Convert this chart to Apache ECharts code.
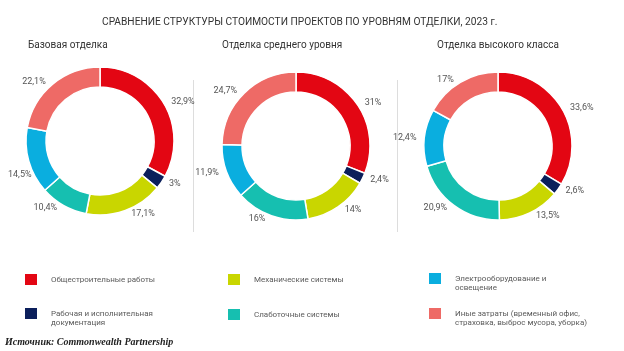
<!DOCTYPE html>
<html>
<head>
<meta charset="utf-8">
<script src="https://cdn.jsdelivr.net/npm/echarts@6/dist/echarts.min.js"></script>
<style>
html,body{margin:0;padding:0;background:#fff}
#main{width:624px;height:351px}
</style>
</head>
<body>
<div id="main"></div>
<script>
// данные
const categories = [
    'Общестроительные работы',
    'Рабочая и исполнительная документация',
    'Механические системы',
    'Слаботочные системы',
    'Электрооборудование и освещение',
    'Иные затраты (временный офис, страховка, выброс мусора, уборка)'
];
const levels = ['Базовая отделка', 'Отделка среднего уровня', 'Отделка высокого класса'];
const basicValues = [32.9, 3, 17.1, 10.4, 14.5, 22.1];
const midValues = [31, 2.4, 14, 16, 11.9, 24.7];
const highValues = [33.6, 2.6, 13.5, 20.9, 12.4, 17];

const colors = ['#e30613', '#0b1f5b', '#c9d600', '#16bfb0', '#0aaedf', '#ee6a66'];
// пустая первая строка, чтобы первая строка текста шла вровень с центром квадрата
const wrapped = {
    'Рабочая и исполнительная документация': '\nРабочая и исполнительная\nдокументация',
    'Электрооборудование и освещение': '\nЭлектрооборудование и\nосвещение',
    'Иные затраты (временный офис, страховка, выброс мусора, уборка)': '\nИные затраты (временный офис,\nстраховка, выброс мусора, уборка)'
};
const font = 'Roboto, sans-serif';

let myChart = echarts.init(document.getElementById('main'));

let makePie = function (values, center) {
    return {
        type: 'pie',
        silent: true,
        center: center,
        radius: [54, 74],
        startAngle: 90,
        avoidLabelOverlap: false,
        itemStyle: { borderColor: '#fff', borderWidth: 1.5 },
        label: {
            position: 'outside',
            fontFamily: font,
            fontSize: 9,
            color: '#555',
            formatter: function (p) {
                return String(p.value).replace('.', ',') + '%';
            }
        },
        labelLine: { show: false, length: 3, length2: 0 },
        // если подпись вылезает за левый край, сдвигаем её вниз вдоль кольца
        labelLayout: function (params) {
            const r = params.labelRect;
            if (r.x < 8) {
                const dx = 8 - r.x;
                return { x: r.x + r.width + dx, y: r.y + r.height / 2 + dx * 1.2 };
            }
        },
        data: values.map(function (v, i) {
            return { name: categories[i], value: v };
        })
    };
};

let makeLegend = function (left, top, name) {
    return {
        orient: 'vertical',
        left: left,
        top: top,
        padding: 0,
        itemWidth: 14,
        itemHeight: 13,
        icon: 'rect',
        selectedMode: false,
        data: [name],
        formatter: function (n) { return wrapped[n] || n; },
        textStyle: { fontFamily: font, fontSize: 8, color: '#5a5a5a', lineHeight: 9.5, padding: [0, 0, 0, 8] }
    };
};

const subStyle = { fontFamily: font, fontSize: 10, fontWeight: 'normal', color: '#333' };

let option = {
    color: colors,
    animation: false,
    title: [
        { text: 'СРАВНЕНИЕ СТРУКТУРЫ СТОИМОСТИ ПРОЕКТОВ ПО УРОВНЯМ ОТДЕЛКИ, 2023 г.', left: 102, top: 17.5, padding: 0,
          textStyle: { fontFamily: font, fontSize: 10.2, fontWeight: 'normal', color: '#333' } },
        { text: levels[0], left: 28, top: 40, padding: 0, textStyle: subStyle },
        { text: levels[1], left: 222, top: 40, padding: 0, textStyle: subStyle },
        { text: levels[2], left: 437, top: 40, padding: 0, textStyle: subStyle }
    ],
    legend: [
        makeLegend(23, 272, categories[0]),
        makeLegend(23, 299.25, categories[1]),
        makeLegend(226, 272, categories[2]),
        makeLegend(226, 307, categories[3]),
        makeLegend(427, 264.25, categories[4]),
        makeLegend(427, 299.25, categories[5])
    ],
    graphic: [
        { type: 'line', shape: { x1: 193.5, y1: 80, x2: 193.5, y2: 232 }, style: { stroke: '#ddd', lineWidth: 1 } },
        { type: 'line', shape: { x1: 397.5, y1: 80, x2: 397.5, y2: 232 }, style: { stroke: '#ddd', lineWidth: 1 } },
        { type: 'text', left: 5, top: 337,
          style: { text: 'Источник: Commonwealth Partnership', font: 'italic bold 10px "Liberation Serif", serif', fill: '#222' } }
    ],
    series: [
        makePie(basicValues, [100, 141]),
        makePie(midValues, [296, 146]),
        makePie(highValues, [498, 146])
    ]
};

myChart.setOption(option);
</script>
</body>
</html>
